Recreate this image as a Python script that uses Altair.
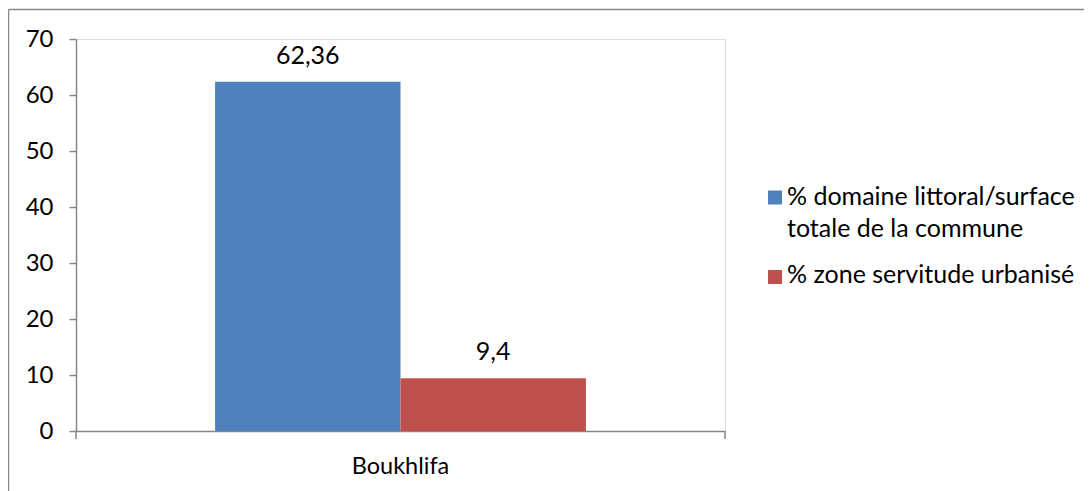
import altair as alt
import pandas as pd

categories = ["Boukhlifa"]
series = ["% domaine littoral/surface totale de la commune", "% zone servitude urbanisé"]
legend_lines = [["% domaine littoral/surface", "totale de la commune"], ["% zone servitude urbanisé"]]
values = [62.36, 9.4]
value_labels = ["62,36", "9,4"]
colors = ["#4F81BD", "#C0504D"]
y_ticks = [0, 10, 20, 30, 40, 50, 60, 70]

df = pd.DataFrame({
    "commune": [categories[0]] * len(series),
    "serie": series,
    "valeur": values,
    "etiquette": value_labels,
})

FONT = "Lato"
W, H = 649, 392
AX = "#868686"

x_enc = alt.X("commune:N", title=None,
              scale=alt.Scale(paddingInner=0, paddingOuter=0.375),
              axis=alt.Axis(labelAngle=0, ticks=False, labelPadding=23,
                            labelFontSize=23.5, labelFont=FONT, labelColor="#000000",
                            domainColor=AX, domainWidth=1.5))
xoff = alt.XOffset("serie:N", sort=series, scale=alt.Scale(paddingInner=0, paddingOuter=0))
y_enc = alt.Y("valeur:Q", title=None,
              scale=alt.Scale(domain=[0, 70], nice=False),
              axis=alt.Axis(values=y_ticks, grid=False, tickSize=7, tickColor=AX,
                            tickWidth=1.5, domainColor=AX, domainWidth=1.5,
                            labelPadding=16, labelFontSize=24, labelFont=FONT,
                            labelColor="#000000"))

color_enc = alt.Color("serie:N", sort=series, title=None,
                      scale=alt.Scale(domain=series, range=colors), legend=None)

bars = alt.Chart(df).mark_bar().encode(x=x_enc, xOffset=xoff, y=y_enc, color=color_enc)

texts = alt.Chart(df).mark_text(baseline="alphabetic", dy=-18, fontSize=25, font=FONT,
                                color="#000000").encode(
    x="commune:N", xOffset=alt.XOffset("serie:N", sort=series), y="valeur:Q",
    text="etiquette:N",
)

one = pd.DataFrame({"e": [0]})
edge_ticks = alt.Chart(one).mark_rule(color=AX, strokeWidth=1.5).encode(
    x=alt.value(0), y=alt.value(H), y2=alt.value(H + 8))
edge_ticks2 = alt.Chart(one).mark_rule(color=AX, strokeWidth=1.5).encode(
    x=alt.value(W), y=alt.value(H), y2=alt.value(H + 8))

# outer chart-area frame (only its left and top sides fall inside the picture)
frame_top = alt.Chart(one).mark_rule(color="#898989", strokeWidth=1.5).encode(
    x=alt.value(-67.5), x2=alt.value(1100), y=alt.value(-29.5))
frame_left = alt.Chart(one).mark_rule(color="#898989", strokeWidth=1.5).encode(
    x=alt.value(-67.5), y=alt.value(-29.5), y2=alt.value(700))

# legend (drawn as marks so the wrapped label can have Excel-like line spacing)
leg_df = pd.DataFrame({"serie": series, "lignes": legend_lines})
leg_sq1 = alt.Chart(leg_df).transform_filter(alt.datum.serie == series[0]).mark_square(
    size=196, opacity=1).encode(x=alt.value(699), y=alt.value(158.5), color=color_enc)
leg_sq2 = alt.Chart(leg_df).transform_filter(alt.datum.serie == series[1]).mark_square(
    size=196, opacity=1).encode(x=alt.value(699), y=alt.value(238), color=color_enc)
leg_t1 = alt.Chart(leg_df).transform_filter(alt.datum.serie == series[0]).mark_text(
    align="left", baseline="alphabetic", fontSize=25, font=FONT, color="#000000",
    lineHeight=31.5).encode(x=alt.value(711), y=alt.value(166), text="lignes")
leg_t2 = alt.Chart(leg_df).transform_filter(alt.datum.serie == series[1]).mark_text(
    align="left", baseline="alphabetic", fontSize=25, font=FONT, color="#000000",
    lineHeight=31.5).encode(x=alt.value(711), y=alt.value(244), text="lignes")

chart = alt.layer(frame_top, frame_left, bars, texts, edge_ticks, edge_ticks2,
                  leg_sq1, leg_sq2, leg_t1, leg_t2).properties(
    width=W, height=H,
    padding={"left": 68, "top": 31, "right": 359, "bottom": 60},
    autosize=alt.AutoSizeParams(type="none"),
).configure_view(stroke=None).configure(background="#ffffff")

chart.save("out.html", embed_options={"renderer": "svg", "actions": False})
